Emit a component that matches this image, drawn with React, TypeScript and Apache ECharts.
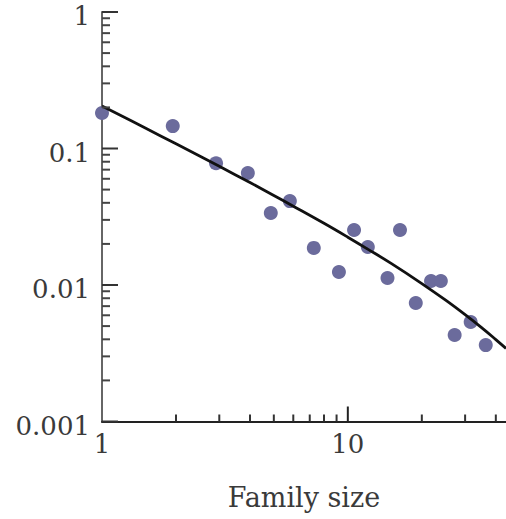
import React, { useEffect, useRef } from "react";
import * as echarts from "echarts";

const familySizes = [1, 1.94, 2.91, 3.92, 4.86, 5.81, 7.27, 9.2, 10.6, 12.06, 14.5, 16.3, 18.9, 21.8, 23.9, 27.2, 31.6, 36.4];
const fractions = [0.182, 0.146, 0.078, 0.0662, 0.0337, 0.0412, 0.0187, 0.01245, 0.0253, 0.019, 0.01125, 0.0253, 0.00738, 0.0107, 0.0107, 0.0043, 0.00536, 0.00363];

// Fitted curve
const curveX = [1, 1.5, 2, 3, 4, 5, 6, 8, 10, 12, 15, 20, 25, 30, 35, 40, 44];
const curveY = [0.205, 0.1412, 0.1082, 0.074, 0.0563, 0.0453, 0.0378, 0.0283, 0.0224, 0.0184, 0.0144, 0.01025, 0.00774, 0.00606, 0.00487, 0.00398, 0.00343];

// Axis ticks
const xTickLabels = [1, 10];
const yTickLabels = [0.001, 0.01, 0.1, 1];
const xMinorTicks = [2, 3, 4, 5, 6, 7, 8, 9, 20, 30, 40];
const yMinorTicks = [
  0.002, 0.003, 0.004, 0.005, 0.006, 0.007, 0.008, 0.009,
  0.02, 0.03, 0.04, 0.05, 0.06, 0.07, 0.08, 0.09,
  0.2, 0.3, 0.4, 0.5, 0.6, 0.7, 0.8, 0.9,
];

const X_MIN = 1;
const X_MAX = 44;
const Y_MIN = 0.001;
const Y_MAX = 1;

const FONT = "DejaVu Serif";

function matchLabel(v: number, list: number[]): string {
  for (const t of list) {
    if (Math.abs(Math.log10(v) - Math.log10(t)) < 1e-6) return String(t);
  }
  return "";
}

function tickSeries(kind: "x" | "y", values: number[], len: number, color: string, width: number) {
  return {
    type: "custom",
    silent: true,
    z: 4,
    clip: false,
    data: values.map((v) => (kind === "x" ? [v, Y_MIN] : [X_MIN, v])),
    renderItem: (params: any, api: any) => {
      const p = api.coord([api.value(0), api.value(1)]);
      return {
        type: "line",
        shape:
          kind === "x"
            ? { x1: p[0], y1: p[1], x2: p[0], y2: p[1] - len }
            : { x1: p[0], y1: p[1], x2: p[0] + len, y2: p[1] },
        style: { stroke: color, lineWidth: width },
      };
    },
  };
}

export default function App() {
  const ref = useRef<HTMLDivElement>(null);

  useEffect(() => {
    if (!ref.current) return;
    const chart = echarts.init(ref.current, undefined, { renderer: "svg" });
    chart.setOption({
      animation: false,
      backgroundColor: "#ffffff",
      grid: { left: 102, right: 0, top: 12, bottom: 97.5, containLabel: false },
      xAxis: {
        type: "log",
        logBase: 10,
        min: X_MIN,
        max: X_MAX,
        name: "Family size",
        nameLocation: "middle",
        nameGap: 62,
        nameTextStyle: { fontFamily: FONT, fontSize: 27, color: "#3a3a3a" },
        axisLine: { show: true, lineStyle: { color: "#222", width: 2 } },
        axisTick: { show: false },
        splitLine: { show: false },
        axisLabel: {
          fontFamily: FONT,
          fontSize: 26,
          color: "#3a3a3a",
          margin: 9,
          showMaxLabel: false,
          formatter: (v: number) => matchLabel(v, xTickLabels),
        },
      },
      yAxis: {
        type: "log",
        logBase: 10,
        min: Y_MIN,
        max: Y_MAX,
        axisLine: { show: true, lineStyle: { color: "#666", width: 2 } },
        axisTick: { show: false },
        splitLine: { show: false },
        axisLabel: {
          fontFamily: FONT,
          fontSize: 26,
          color: "#3a3a3a",
          margin: 12,
          verticalAlign: "top",
          lineHeight: 8,
          formatter: (v: number) => matchLabel(v, yTickLabels),
        },
      },
      series: [
        tickSeries("x", xTickLabels.filter((v) => v > X_MIN), 15, "#222", 2),
        tickSeries("x", xMinorTicks, 7, "#333", 2),
        tickSeries("y", yTickLabels, 16, "#333", 2),
        tickSeries("y", yMinorTicks, 8, "#444", 2),
        {
          type: "scatter",
          z: 2,
          symbol: "circle",
          symbolSize: 14,
          itemStyle: { color: "#6b6b9c", opacity: 1 },
          data: familySizes.map((x, i) => [x, fractions[i]]),
        },
        {
          type: "line",
          z: 3,
          smooth: 0.4,
          showSymbol: false,
          symbol: "none",
          lineStyle: { color: "#111", width: 2.8 },
          data: curveX.map((x, i) => [x, curveY[i]]),
        },
      ],
    });
    return () => chart.dispose();
  }, []);

  return (
    <div
      ref={ref}
      style={{ position: "absolute", left: 0, top: 0, width: 506, height: 519 }}
    />
  );
}
